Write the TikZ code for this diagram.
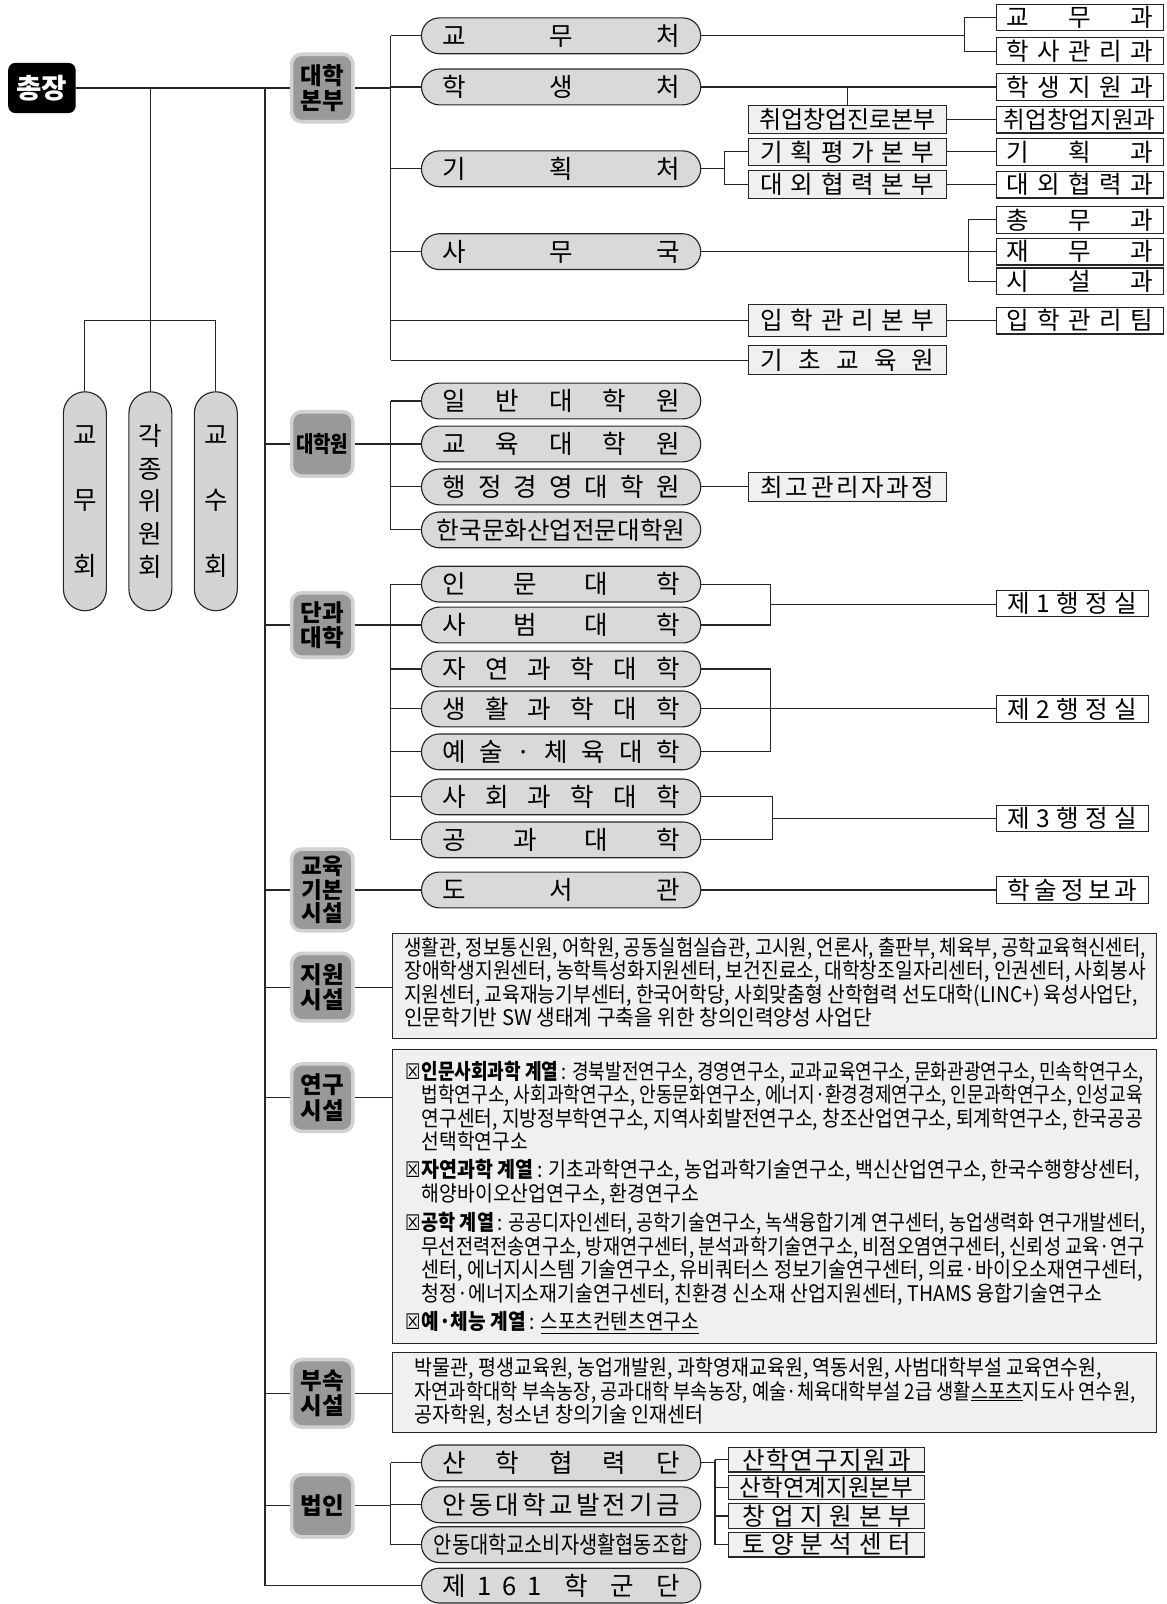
\documentclass[tikz,border=0pt]{standalone}
\usepackage{graphicx}
\usepackage{fontspec}
\setmainfont{Noto Sans CJK KR}
\newfontfamily\narrowfont[FakeStretch=0.84]{Noto Sans CJK KR}
\newfontfamily\boxsym[FakeStretch=0.8]{DejaVu Sans}
\newcommand\fsz[2]{\fontsize{#1}{#2}\selectfont}
\newcommand\plbl[1]{\makebox[232pt]{#1}}
\newcommand\mlbl[1]{\makebox[170pt]{#1}}
\newcommand\ulbl[1]{\makebox[143pt]{#1}}
\newcommand\olbl[1]{\makebox[127pt]{#1}}
\newcommand\clbl[1]{\makebox[165pt]{#1}}
\newcommand\chk{\llap{{\boxsym\fsz{21}{23}☒}\hspace{1pt}}}
\newcommand\fitline[2]{\resizebox{#1}{\height}{#2}}

\begin{document}
\begin{tikzpicture}[x=1pt,y=-1pt]
\tikzset{
	link/.style = {draw=black!85, line width=1.1pt},
	chief/.style = {fill=black, text=white, rounded corners=7pt,
		minimum width=66pt, minimum height=49pt, inner sep=0pt,
		font=\fsz{27}{30}\bfseries},
	catbox/.style = {fill=black!40, draw=black!18, line width=3.5pt,
		rounded corners=10pt, minimum width=60pt, inner sep=0pt,
		align=center, font=\fsz{23}{25}\bfseries},
	council/.style = {draw=black!85, line width=1.1pt, fill=black!17,
		rounded corners=21pt, minimum width=42pt, minimum height=214pt,
		inner sep=0pt, align=center, font=\fsz{25}{26}},
	pill/.style = {draw=black!85, line width=1.1pt, fill=black!15,
		rounded corners=17.5pt, minimum width=273pt, minimum height=35pt,
		inner sep=0pt, font=\fsz{25}{26}},
	midbox/.style = {draw=black!85, line width=1.1pt, fill=black!6,
		minimum width=193pt, minimum height=27pt, inner sep=0pt,
		font=\fsz{24}{24}},
	unitbox/.style = {draw=black!85, line width=1.1pt, fill=white,
		minimum width=163pt, minimum height=26pt, inner sep=0pt,
		font=\fsz{24}{24}},
	officebox/.style = {unitbox, minimum width=149pt},
	corpbox/.style = {midbox, minimum width=192pt, minimum height=24pt},
	listbox/.style = {draw=black!85, line width=1.1pt, fill=black!6,
		minimum width=747pt, anchor=north west, inner sep=0pt},
	listtxt/.style = {anchor=north west, align=left, inner sep=0pt,
		font=\narrowfont\fsz{21}{23}}
}
\fill[white] (0,0) rectangle (1140,1568);
\useasboundingbox (0,0) rectangle (1140,1568);

% left side
\node[chief] (boss) at (41,86) {총장};
\node[council] (kyomu) at (83,490) {교\\[38pt]무\\[38pt]회};
\node[council] (wiwon) at (147,490) {각\\[6pt]종\\[6pt]위\\[6pt]원\\[6pt]회};
\node[council] (kyosu) at (211,490) {교\\[38pt]수\\[38pt]회};

% categories
\node[catbox, minimum height=66pt] (hq) at (315,86) {대학\\본부};
\node[catbox, minimum height=63pt, font=\narrowfont\fsz{22}{25}\bfseries] (grad) at (315,434) {대학원};
\node[catbox, minimum height=63pt] (coll) at (315,611) {단과\\대학};
\node[catbox, minimum height=80pt, font=\fsz{22}{23}\bfseries] (edubase) at (315,870) {교육\\기본\\시설};
\node[catbox, minimum height=66pt] (supp) at (315,965) {지원\\시설};
\node[catbox, minimum height=66pt] (resc) at (315,1073) {연구\\시설};
\node[catbox, minimum height=66pt] (attc) at (315,1362) {부속\\시설};
\node[catbox, minimum height=61pt] (corp) at (315,1472) {법인};

% 대학본부
\node[pill] (p_kyomu) at (548.5,35) {\plbl{교\hfill 무\hfill 처}};
\node[pill] (p_student) at (548.5,85) {\plbl{학\hfill 생\hfill 처}};
\node[pill] (p_plan) at (548.5,165) {\plbl{기\hfill 획\hfill 처}};
\node[pill] (p_office) at (548.5,246) {\plbl{사\hfill 무\hfill 국}};

\node[midbox] (m_career) at (828.5,117) {\mlbl{\fsz{23.5}{24}취업창업진로본부}};
\node[midbox] (m_plan) at (828.5,148.5) {\mlbl{기\hfill 획\hfill 평\hfill 가\hfill 본\hfill 부}};
\node[midbox] (m_ext) at (828.5,180.5) {\mlbl{대\hfill 외\hfill 협\hfill 력\hfill 본\hfill 부}};
\node[midbox, minimum height=31pt] (m_adm) at (828.5,313.5) {\mlbl{입\hfill 학\hfill 관\hfill 리\hfill 본\hfill 부}};
\node[midbox, minimum height=28pt] (m_basic) at (828.5,352) {\mlbl{기\hfill 초\hfill 교\hfill 육\hfill 원}};

\node[unitbox] (u_kyomu) at (1055.5,17) {\ulbl{교\hfill 무\hfill 과}};
\node[unitbox] (u_haksa) at (1055.5,50) {\ulbl{학\hfill 사\hfill 관\hfill 리\hfill 과}};
\node[unitbox] (u_student) at (1055.5,85) {\ulbl{학\hfill 생\hfill 지\hfill 원\hfill 과}};
\node[unitbox] (u_startup) at (1055.5,117) {\ulbl{\fsz{23}{24}취업창업지원과}};
\node[unitbox] (u_plan) at (1055.5,148.5) {\ulbl{기\hfill 획\hfill 과}};
\node[unitbox] (u_ext) at (1055.5,180.5) {\ulbl{대\hfill 외\hfill 협\hfill 력\hfill 과}};
\node[unitbox] (u_general) at (1055.5,215) {\ulbl{총\hfill 무\hfill 과}};
\node[unitbox] (u_finance) at (1055.5,246) {\ulbl{재\hfill 무\hfill 과}};
\node[unitbox] (u_facility) at (1055.5,275) {\ulbl{시\hfill 설\hfill 과}};
\node[unitbox] (u_admteam) at (1055.5,313.5) {\ulbl{입\hfill 학\hfill 관\hfill 리\hfill 팀}};

% 대학원
\node[pill] (g_general) at (548.5,392) {\plbl{일\hfill 반\hfill 대\hfill 학\hfill 원}};
\node[pill] (g_edu) at (548.5,434) {\plbl{교\hfill 육\hfill 대\hfill 학\hfill 원}};
\node[pill] (g_public) at (548.5,476) {\plbl{행\hfill 정\hfill 경\hfill 영\hfill 대\hfill 학\hfill 원}};
\node[pill] (g_culture) at (548.5,518) {\plbl{\fsz{24}{26}한국문화산업전문대학원}};
\node[midbox, minimum height=29pt] (m_exec) at (828.5,476) {\mlbl{최\hfill 고\hfill 관\hfill 리\hfill 자\hfill 과\hfill 정}};

% 단과대학
\node[pill] (k_human) at (548.5,571) {\plbl{인\hfill 문\hfill 대\hfill 학}};
\node[pill] (k_teach) at (548.5,611) {\plbl{사\hfill 범\hfill 대\hfill 학}};
\node[pill] (k_nat) at (548.5,654) {\plbl{자\hfill 연\hfill 과\hfill 학\hfill 대\hfill 학}};
\node[pill] (k_life) at (548.5,693) {\plbl{생\hfill 활\hfill 과\hfill 학\hfill 대\hfill 학}};
\node[pill] (k_art) at (548.5,735) {\plbl{예\hfill 술\hfill ·\hfill 체\hfill 육\hfill 대\hfill 학}};
\node[pill] (k_soc) at (548.5,779) {\plbl{사\hfill 회\hfill 과\hfill 학\hfill 대\hfill 학}};
\node[pill] (k_eng) at (548.5,821) {\plbl{공\hfill 과\hfill 대\hfill 학}};
\node[officebox] (o_first) at (1048.5,590) {\olbl{제\hfill 1\hfill 행\hfill 정\hfill 실}};
\node[officebox] (o_second) at (1048.5,693) {\olbl{제\hfill 2\hfill 행\hfill 정\hfill 실}};
\node[officebox] (o_third) at (1048.5,800) {\olbl{제\hfill 3\hfill 행\hfill 정\hfill 실}};

% 교육기본시설
\node[pill] (p_lib) at (548.5,870) {\plbl{도\hfill 서\hfill 관}};
\node[officebox] (o_lib) at (1048.5,870) {\olbl{학\hfill 술\hfill 정\hfill 보\hfill 과}};

% 지원 / 연구 / 부속
\node[listbox, minimum height=103pt] (supbox) at (383,912) {};
\node[listtxt] (suptext) at (395,916) {\fitline{725pt}{생활관, 정보통신원, 어학원, 공동실험실습관, 고시원, 언론사, 출판부, 체육부, 공학교육혁신센터,}\\
\fitline{725pt}{장애학생지원센터, 농학특성화지원센터, 보건진료소, 대학창조일자리센터, 인권센터, 사회봉사}\\
\fitline{717pt}{지원센터, 교육재능기부센터, 한국어학당, 사회맞춤형 산학협력 선도대학(LINC+) 육성사업단,}\\
\fitline{457pt}{인문학기반 SW 생태계 구축을 위한 창의인력양성 사업단}};

\node[listbox, minimum height=288pt] (resbox) at (383,1025) {};
\node[listtxt] (restext) at (412,1037) {\chk\fitline{706pt}{\textbf{인문사회과학 계열}\,: 경북발전연구소, 경영연구소, 교과교육연구소, 문화관광연구소, 민속학연구소,}\\
\fitline{705pt}{법학연구소, 사회과학연구소, 안동문화연구소, 에너지·환경경제연구소, 인문과학연구소, 인성교육}\\
\fitline{705pt}{연구센터, 지방정부학연구소, 지역사회발전연구소, 창조산업연구소, 퇴계학연구소, 한국공공}\\
\fitline{104pt}{선택학연구소}\\[4pt]
\chk\fitline{702pt}{\textbf{자연과학 계열}\,: 기초과학연구소, 농업과학기술연구소, 백신산업연구소, 한국수행향상센터,}\\
\fitline{271pt}{해양바이오산업연구소, 환경연구소}\\[6pt]
\chk\fitline{708pt}{\textbf{공학 계열}\,: 공공디자인센터, 공학기술연구소, 녹색융합기계 연구센터, 농업생력화 연구개발센터,}\\
\fitline{707pt}{무선전력전송연구소, 방재연구센터, 분석과학기술연구소, 비점오염연구센터, 신뢰성 교육·연구}\\
\fitline{705pt}{센터, 에너지시스템 기술연구소, 유비쿼터스 정보기술연구센터, 의료·바이오소재연구센터,}\\
\fitline{665pt}{청정·에너지소재기술연구센터, 친환경 신소재 산업지원센터, THAMS 융합기술연구소}\\[5pt]
\chk\fitline{271pt}{\textbf{예·체능 계열}\,: \underline{스포츠컨텐츠연구소}}};

\node[listbox, minimum height=78pt] (attbox) at (383,1322) {};
\node[listtxt] (atttext) at (405,1327) {\fitline{672pt}{박물관, 평생교육원, 농업개발원, 과학영재교육원, 역동서원, 사범대학부설 교육연수원,}\\
\fitline{705pt}{자연과학대학 부속농장, 공과대학 부속농장, 예술·체육대학부설 2급 생활\underline{스포츠}지도사 연수원,}\\
\fitline{283pt}{공자학원, 청소년 창의기술 인재센터}};

% 법인
\node[pill] (r_coop) at (548.5,1430) {\plbl{산\hfill 학\hfill 협\hfill 력\hfill 단}};
\node[pill] (r_fund) at (548.5,1471) {\plbl{안\hfill 동\hfill 대\hfill 학\hfill 교\hfill 발\hfill 전\hfill 기\hfill 금}};
\node[pill] (r_union) at (548.5,1510) {\plbl{\narrowfont\fsz{23}{24}안동대학교소비자생활협동조합}};
\node[pill, minimum height=34pt] (r_rotc) at (548.5,1550) {\plbl{제\hfill 1\hfill 6\hfill 1\hfill\hfill 학\hfill\hfill 군\hfill\hfill 단}};
\node[corpbox] (b_research) at (808,1427) {\clbl{산\hfill 학\hfill 연\hfill 구\hfill 지\hfill 원\hfill 과}};
\node[corpbox] (b_link) at (808,1454) {\clbl{\fsz{23}{24}산학연계지원본부}};
\node[corpbox] (b_startup) at (808,1482) {\clbl{창\hfill 업\hfill 지\hfill 원\hfill 본\hfill 부}};
\node[corpbox] (b_soil) at (808,1510) {\clbl{토\hfill 양\hfill 분\hfill 석\hfill 센\hfill 터}};

% connectors
\coordinate (spine) at (259,86);
\coordinate (cmid) at (147,313);
\coordinate (hqbus) at (382,35);
\coordinate (gradbus) at (382,392);
\coordinate (collbus) at (382,571);
\coordinate (corpbus) at (382,1430);
\coordinate (kbr) at (943,35);
\coordinate (gbr) at (708,165);
\coordinate (sbr) at (947,246);
\coordinate (br1) at (753,591);
\coordinate (br3) at (755,800);
\coordinate (cbr) at (699,1430);

\draw[link] (boss.east) -- (hq.west);
\draw[link] (wiwon.north) -- (wiwon.north |- boss.east);
\draw[link] (kyomu.north) |- (cmid) -| (kyosu.north);
\draw[link] (spine) -- (spine |- r_rotc.west) -- (r_rotc.west);
\draw[link] (grad.west -| spine) -- (grad.west);
\draw[link] (coll.west -| spine) -- (coll.west);
\draw[link] (edubase.west -| spine) -- (edubase.west);
\draw[link] (supp.west -| spine) -- (supp.west);
\draw[link] (resc.west -| spine) -- (resc.west);
\draw[link] (attc.west -| spine) -- (attc.west);
\draw[link] (corp.west -| spine) -- (corp.west);

\draw[link] (hq.east) -- (hq.east -| hqbus);
\draw[link] (hqbus) -- (hqbus |- m_basic.west);
\draw[link] (p_kyomu.west -| hqbus) -- (p_kyomu.west);
\draw[link] (p_student.west -| hqbus) -- (p_student.west);
\draw[link] (p_plan.west -| hqbus) -- (p_plan.west);
\draw[link] (p_office.west -| hqbus) -- (p_office.west);
\draw[link] (m_adm.west -| hqbus) -- (m_adm.west);
\draw[link] (m_basic.west -| hqbus) -- (m_basic.west);

\draw[link] (p_kyomu.east) -- (kbr);
\draw[link] (u_kyomu.west) -- (u_kyomu.west -| kbr) -- (u_haksa.west -| kbr) -- (u_haksa.west);
\draw[link] (p_student.east) -- (u_student.west);
\draw[link] (m_career.north) -- (m_career.north |- u_student.west);
\draw[link] (m_career.east) -- (u_startup.west);
\draw[link] (p_plan.east) -- (gbr);
\draw[link] (m_plan.west) -- (m_plan.west -| gbr) -- (m_ext.west -| gbr) -- (m_ext.west);
\draw[link] (m_plan.east) -- (u_plan.west);
\draw[link] (m_ext.east) -- (u_ext.west);
\draw[link] (p_office.east) -- (u_finance.west);
\draw[link] (u_general.west) -- (u_general.west -| sbr) -- (u_facility.west -| sbr) -- (u_facility.west);
\draw[link] (m_adm.east) -- (u_admteam.west);

\draw[link] (grad.east) -- (grad.east -| gradbus);
\draw[link] (gradbus) -- (gradbus |- g_culture.west);
\draw[link] (g_general.west -| gradbus) -- (g_general.west);
\draw[link] (g_edu.west -| gradbus) -- (g_edu.west);
\draw[link] (g_public.west -| gradbus) -- (g_public.west);
\draw[link] (g_culture.west -| gradbus) -- (g_culture.west);
\draw[link] (g_public.east) -- (m_exec.west);

\draw[link] (coll.east) -- (coll.east -| collbus);
\draw[link] (collbus) -- (collbus |- k_eng.west);
\draw[link] (k_human.west -| collbus) -- (k_human.west);
\draw[link] (k_teach.west -| collbus) -- (k_teach.west);
\draw[link] (k_nat.west -| collbus) -- (k_nat.west);
\draw[link] (k_life.west -| collbus) -- (k_life.west);
\draw[link] (k_art.west -| collbus) -- (k_art.west);
\draw[link] (k_soc.west -| collbus) -- (k_soc.west);
\draw[link] (k_eng.west -| collbus) -- (k_eng.west);
\draw[link] (k_human.east) -- (k_human.east -| br1) -- (k_teach.east -| br1) -- (k_teach.east);
\draw[link] (br1) -- (br1 -| o_first.west);
\draw[link] (k_nat.east) -- (k_nat.east -| br1) -- (k_art.east -| br1) -- (k_art.east);
\draw[link] (k_life.east) -- (o_second.west);
\draw[link] (k_soc.east) -- (k_soc.east -| br3) -- (k_eng.east -| br3) -- (k_eng.east);
\draw[link] (br3) -- (br3 -| o_third.west);

\draw[link] (edubase.east) -- (p_lib.west);
\draw[link] (p_lib.east) -- (o_lib.west);
\draw[link] (supp.east) -- (supp.east -| supbox.west);
\draw[link] (resc.east) -- (resc.east -| resbox.west);
\draw[link] (attc.east) -- (attc.east -| attbox.west);

\draw[link] (corp.east) -- (corp.east -| corpbus);
\draw[link] (corpbus) -- (corpbus |- r_union.west);
\draw[link] (r_coop.west -| corpbus) -- (r_coop.west);
\draw[link] (r_fund.west -| corpbus) -- (r_fund.west);
\draw[link] (r_union.west -| corpbus) -- (r_union.west);
\draw[link] (r_coop.east) -- (cbr);
\draw[link] (b_research.west -| cbr) -- (b_soil.west -| cbr);
\draw[link] (b_research.west -| cbr) -- (b_research.west);
\draw[link] (b_link.west -| cbr) -- (b_link.west);
\draw[link] (b_startup.west -| cbr) -- (b_startup.west);
\draw[link] (b_soil.west -| cbr) -- (b_soil.west);
\end{tikzpicture}
\end{document}
